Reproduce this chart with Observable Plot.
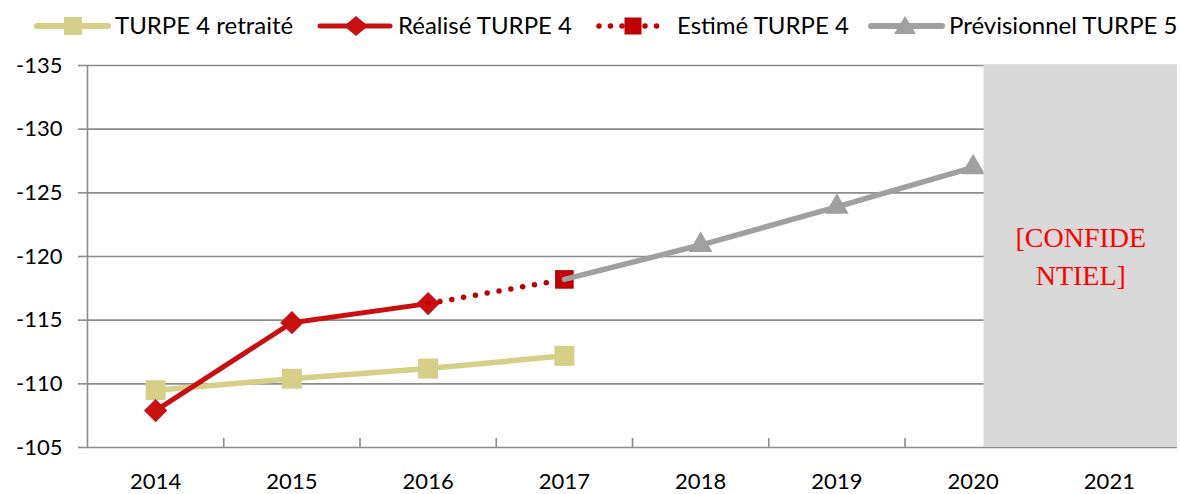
<!DOCTYPE html>
<html>
<head>
<meta charset="utf-8">
<script src="https://cdn.jsdelivr.net/npm/d3@7"></script>
<script src="https://cdn.jsdelivr.net/npm/@observablehq/plot@0.6"></script>
<style>
  html, body { margin: 0; padding: 0; background: #fff; }
  #legend { display: block; }
  #chart svg { display: block; }
</style>
</head>
<body>
<div id="legend"></div>
<div id="chart"></div>
<script>
// ---- Data ----
const years = [2014, 2015, 2016, 2017, 2018, 2019, 2020, 2021];
const yTicks = [-135, -130, -125, -120, -115, -110, -105];

const retraiteYears = [2014, 2015, 2016, 2017];
const retraiteValues = [-109.5, -110.4, -111.2, -112.2];

const realiseYears = [2014, 2015, 2016];
const realiseValues = [-107.9, -114.8, -116.3];

const estimeYears = [2016, 2017];
const estimeValues = [-116.3, -118.2];

const previsionnelYears = [2017, 2018, 2019, 2020];
const previsionnelValues = [-118.2, -120.9, -123.9, -127.0];

const seriesNames = ["TURPE 4 retraité", "Réalisé TURPE 4", "Estimé TURPE 4", "Prévisionnel TURPE 5"];
const confidentialLabel = "[CONFIDE\nNTIEL]";

// ---- Styles ----
const TAN = "#d5cf88", RED = "#c91010", RED2 = "#c00000", GREY = "#a0a0a0", GRID = "#8c8c8c";
const FONT = "Lato, 'Open Sans', sans-serif";

const toRows = (xs, vs) => xs.map((x, i) => ({x, y: vs[i]}));
const retraite = toRows(retraiteYears, retraiteValues);
const realise = toRows(realiseYears, realiseValues);
const estime = toRows(estimeYears, estimeValues);
const previsionnel = toRows(previsionnelYears, previsionnelValues);

const xMin = years[0] - 0.5, xMax = years[years.length - 1] + 0.5;
const boundaries = years.slice(0, -2).map(y => y + 0.5);
const confStart = years[years.length - 2] + 0.08;

// ---- Legend ----
const lg = d3.select("#legend").append("svg").attr("width", 1180).attr("height", 50)
  .style("font-family", FONT).style("display", "block");
const ly = 26;
// item 1
lg.append("line").attr("x1", 37).attr("x2", 108).attr("y1", ly).attr("y2", ly)
  .attr("stroke", TAN).attr("stroke-width", 6).attr("stroke-linecap", "round");
lg.append("rect").attr("x", 73 - 9).attr("y", ly - 9).attr("width", 18).attr("height", 18).attr("fill", TAN);
// item 2
lg.append("line").attr("x1", 320).attr("x2", 390).attr("y1", ly).attr("y2", ly)
  .attr("stroke", RED).attr("stroke-width", 5).attr("stroke-linecap", "round");
lg.append("path").attr("d", `M356,${ly-10}L368,${ly}L356,${ly+10}L344,${ly}Z`).attr("fill", RED);
// item 3
lg.append("line").attr("x1", 599).attr("x2", 662).attr("y1", ly).attr("y2", ly)
  .attr("stroke", RED2).attr("stroke-width", 5.5).attr("stroke-linecap", "round").attr("stroke-dasharray", "0 11.5");
lg.append("rect").attr("x", 633 - 8.5).attr("y", ly - 8.5).attr("width", 17).attr("height", 17).attr("fill", RED2);
// item 4
lg.append("line").attr("x1", 871).attr("x2", 942).attr("y1", ly).attr("y2", ly)
  .attr("stroke", GREY).attr("stroke-width", 6).attr("stroke-linecap", "round");
lg.append("path").attr("d", `M905,${ly-10}L916,${ly+8}L894,${ly+8}Z`).attr("fill", GREY);
const lx = [115, 398, 677, 949];
seriesNames.forEach((n, i) => {
  lg.append("text").attr("x", lx[i]).attr("y", 34).attr("font-size", 24).attr("fill", "#000").text(n);
});

// ---- Chart ----
const chart = Plot.plot({
  width: 1180,
  height: 444,
  marginLeft: 87,
  marginRight: 3,
  marginTop: 15,
  marginBottom: 47,
  style: {fontFamily: FONT, fontSize: "22px", color: "#000", background: "#fff"},
  x: {domain: [xMin, xMax], label: null},
  y: {domain: [-105, -135], label: null},
  marks: [
    Plot.gridY(yTicks, {stroke: GRID, strokeOpacity: 1, strokeWidth: 1.6}),
    Plot.ruleX([xMin], {stroke: GRID, strokeWidth: 1.6}),
    Plot.ruleX(boundaries, {stroke: GRID, strokeWidth: 1.6, insetTop: 373}),
    Plot.axisY(yTicks, {tickSize: 9, tickPadding: 16, stroke: GRID, strokeWidth: 1.6, fill: "#000",
      fontSize: 22, label: null, tickFormat: d => String(d)}),
    Plot.axisX(years, {tickSize: 0, tickPadding: 26, fill: "#000", fontSize: 22, label: null, tickFormat: d => String(d)}),

    Plot.line(retraite, {x: "x", y: "y", stroke: TAN, strokeWidth: 5.5}),
    Plot.dot(retraite, {x: "x", y: "y", symbol: "square", r: 11.3, fill: TAN}),

    Plot.line(realise, {x: "x", y: "y", stroke: RED, strokeWidth: 5}),
    Plot.dot(realise, {x: "x", y: "y", symbol: "diamond2", r: 10.5, fill: RED}),

    Plot.line(estime, {x: "x", y: "y", stroke: RED2, strokeWidth: 5.5, strokeDasharray: "0 12", strokeLinecap: "round"}),
    Plot.dot(estime.slice(1), {x: "x", y: "y", symbol: "square", r: 10.5, fill: RED2}),

    Plot.line(previsionnel, {x: "x", y: "y", stroke: GREY, strokeWidth: 5.5}),
    Plot.dot(previsionnel.slice(1), {x: "x", y: "y", symbol: "triangle", r: 8.8, fill: GREY}),

    Plot.rect([{x1: confStart, x2: xMax}], {x1: "x1", x2: "x2", y1: -105, y2: -135, fill: "#d9d9d9",
      style: "filter: drop-shadow(-2px 2px 2px rgba(0,0,0,0.35))"}),
    Plot.text([confidentialLabel], {x: (confStart + xMax) / 2, y: -120.2, text: d => d,
      fill: "#ff0000", fontSize: 28, fontFamily: "'Liberation Serif', 'DejaVu Serif', serif", lineHeight: 1.36})
  ]
});
document.getElementById("chart").appendChild(chart);
</script>
</body>
</html>
